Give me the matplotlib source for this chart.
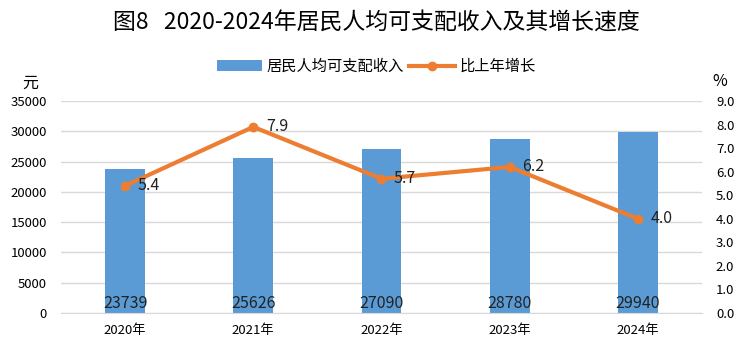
import matplotlib.pyplot as plt
import numpy as np

plt.rcParams['font.family'] = ['Noto Sans CJK SC', 'DejaVu Sans']

years = ['2020年', '2021年', '2022年', '2023年', '2024年']
income = [23739, 25626, 27090, 28780, 29940]
growth = [5.4, 7.9, 5.7, 6.2, 4.0]

bar_color = '#5B9BD5'
line_color = '#ED7D31'

fig = plt.figure(figsize=(7.52, 3.54), dpi=100)
ax = fig.add_axes([0.0811, 0.1158, 0.8524, 0.5989])
x = np.arange(len(years))

ax.bar(x, income, width=0.31, color=bar_color, label='居民人均可支配收入', zorder=2)
ax.set_xlim(-0.5, len(years) - 0.5)
ax.set_ylim(0, 35000)
ax.set_yticks(np.arange(0, 35001, 5000))
ax.grid(axis='y', color='#D9D9D9', linewidth=1, zorder=0)
for s in ['top', 'right', 'left']:
    ax.spines[s].set_visible(False)
ax.spines['bottom'].set_color('#D9D9D9')
ax.tick_params(axis='both', length=0, labelsize=9.5)
ax.tick_params(axis='y', pad=10)
ax.tick_params(axis='x', pad=8)
ax.set_xticks(x)
ax.set_xticklabels(years)
for xi, v in zip(x, income):
    ax.text(xi, 1500, str(v), ha='center', va='center', fontsize=11.5, color='#222222', zorder=5)

ax2 = ax.twinx()
ax2.plot(x, growth, color=line_color, linewidth=3, marker='o', markersize=6, label='比上年增长', zorder=3)
ax2.set_ylim(0, 9)
ax2.set_yticks(np.arange(0, 9.01, 1.0))
ax2.set_yticklabels([f'{t:.1f}' for t in np.arange(0, 9.01, 1.0)])
for s in ['top', 'right', 'left', 'bottom']:
    ax2.spines[s].set_visible(False)
ax2.tick_params(axis='y', length=0, labelsize=9.5, pad=10)
for xi, v in zip(x, growth):
    ax2.annotate(f'{v:.1f}', xy=(xi, v), xytext=(9, 0), textcoords='offset points',
                 ha='left', va='center', fontsize=11.5, color='#222222')

fig.text(0.5, 0.935, '图8   2020-2024年居民人均可支配收入及其增长速度', ha='center', va='center', fontsize=16.5)
fig.text(0.04, 0.765, '元', ha='center', va='center', fontsize=11.5)
fig.text(0.957, 0.77, '%', ha='center', va='center', fontsize=11.5)

h1, l1 = ax.get_legend_handles_labels()
h2, l2 = ax2.get_legend_handles_labels()
fig.legend(h1 + h2, l1 + l2, loc='center', bbox_to_anchor=(0.5, 0.812), ncol=2, frameon=False,
           fontsize=11, handlelength=3, columnspacing=0.3, handletextpad=0.3)

fig.savefig('out.png', dpi=100)
